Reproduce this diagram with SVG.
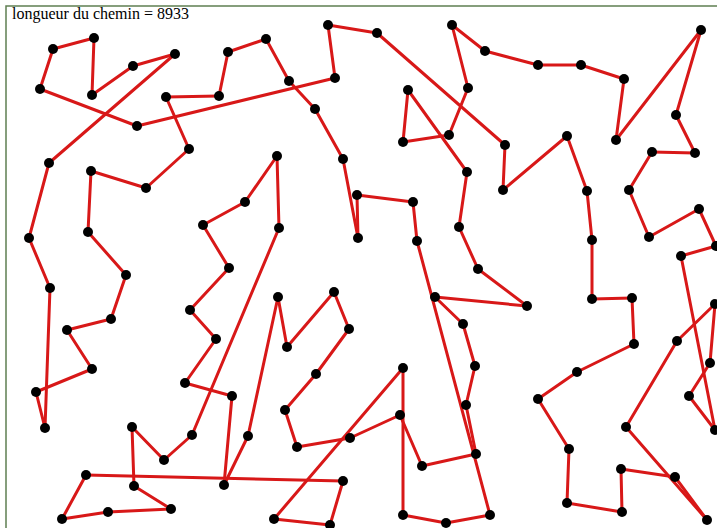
<svg xmlns="http://www.w3.org/2000/svg" width="717" height="528" viewBox="0 0 717 528">
<style>
.e{stroke:#d81818;stroke-width:3;stroke-linecap:round}
.n{fill:#000}
.t{font-family:"Liberation Serif","Times New Roman",serif;font-size:16px;fill:#000}
</style>
<rect width="717" height="528" fill="#fff"/>
<rect x="6" y="6" width="720" height="530" fill="none" stroke="#5f7f52" stroke-width="1.5"/>
<text class="t" x="12" y="19">longueur du chemin = 8933</text>
<g id="connectors">
<line class="e" x1="53" y1="49" x2="94" y2="38"/>
<line class="e" x1="94" y1="38" x2="92" y2="95"/>
<line class="e" x1="92" y1="95" x2="133" y2="66"/>
<line class="e" x1="133" y1="66" x2="175" y2="54"/>
<line class="e" x1="175" y1="54" x2="49" y2="163"/>
<line class="e" x1="49" y1="163" x2="29" y2="238"/>
<line class="e" x1="29" y1="238" x2="50" y2="288"/>
<line class="e" x1="50" y1="288" x2="45" y2="428"/>
<line class="e" x1="45" y1="428" x2="36" y2="392"/>
<line class="e" x1="36" y1="392" x2="92" y2="369"/>
<line class="e" x1="92" y1="369" x2="67" y2="330"/>
<line class="e" x1="67" y1="330" x2="111" y2="319"/>
<line class="e" x1="111" y1="319" x2="126" y2="275"/>
<line class="e" x1="126" y1="275" x2="88" y2="232"/>
<line class="e" x1="88" y1="232" x2="91" y2="171"/>
<line class="e" x1="91" y1="171" x2="146" y2="188"/>
<line class="e" x1="146" y1="188" x2="189" y2="149"/>
<line class="e" x1="189" y1="149" x2="166" y2="97"/>
<line class="e" x1="166" y1="97" x2="219" y2="96"/>
<line class="e" x1="219" y1="96" x2="228" y2="52"/>
<line class="e" x1="228" y1="52" x2="266" y2="39"/>
<line class="e" x1="266" y1="39" x2="289" y2="81"/>
<line class="e" x1="289" y1="81" x2="315" y2="109"/>
<line class="e" x1="315" y1="109" x2="343" y2="159"/>
<line class="e" x1="343" y1="159" x2="358" y2="238"/>
<line class="e" x1="358" y1="238" x2="357" y2="195"/>
<line class="e" x1="357" y1="195" x2="413" y2="202"/>
<line class="e" x1="413" y1="202" x2="417" y2="241"/>
<line class="e" x1="417" y1="241" x2="490" y2="515"/>
<line class="e" x1="490" y1="515" x2="446" y2="523"/>
<line class="e" x1="446" y1="523" x2="403" y2="515"/>
<line class="e" x1="403" y1="515" x2="403" y2="368"/>
<line class="e" x1="403" y1="368" x2="274" y2="519"/>
<line class="e" x1="274" y1="519" x2="330" y2="525"/>
<line class="e" x1="330" y1="525" x2="343" y2="481"/>
<line class="e" x1="343" y1="481" x2="86" y2="475"/>
<line class="e" x1="86" y1="475" x2="62" y2="519"/>
<line class="e" x1="62" y1="519" x2="108" y2="512"/>
<line class="e" x1="108" y1="512" x2="171" y2="509"/>
<line class="e" x1="171" y1="509" x2="134" y2="486"/>
<line class="e" x1="134" y1="486" x2="132" y2="427"/>
<line class="e" x1="132" y1="427" x2="164" y2="460"/>
<line class="e" x1="164" y1="460" x2="192" y2="435"/>
<line class="e" x1="192" y1="435" x2="279" y2="228"/>
<line class="e" x1="279" y1="228" x2="277" y2="156"/>
<line class="e" x1="277" y1="156" x2="245" y2="202"/>
<line class="e" x1="245" y1="202" x2="203" y2="225"/>
<line class="e" x1="203" y1="225" x2="229" y2="268"/>
<line class="e" x1="229" y1="268" x2="190" y2="310"/>
<line class="e" x1="190" y1="310" x2="216" y2="339"/>
<line class="e" x1="216" y1="339" x2="185" y2="383"/>
<line class="e" x1="185" y1="383" x2="232" y2="396"/>
<line class="e" x1="232" y1="396" x2="224" y2="485"/>
<line class="e" x1="224" y1="485" x2="248" y2="436"/>
<line class="e" x1="248" y1="436" x2="278" y2="297"/>
<line class="e" x1="278" y1="297" x2="287" y2="347"/>
<line class="e" x1="287" y1="347" x2="334" y2="292"/>
<line class="e" x1="334" y1="292" x2="349" y2="329"/>
<line class="e" x1="349" y1="329" x2="316" y2="374"/>
<line class="e" x1="316" y1="374" x2="285" y2="410"/>
<line class="e" x1="285" y1="410" x2="297" y2="447"/>
<line class="e" x1="297" y1="447" x2="350" y2="438"/>
<line class="e" x1="350" y1="438" x2="400" y2="415"/>
<line class="e" x1="400" y1="415" x2="422" y2="466"/>
<line class="e" x1="422" y1="466" x2="476" y2="454"/>
<line class="e" x1="476" y1="454" x2="466" y2="405"/>
<line class="e" x1="466" y1="405" x2="475" y2="366"/>
<line class="e" x1="475" y1="366" x2="463" y2="324"/>
<line class="e" x1="463" y1="324" x2="435" y2="297"/>
<line class="e" x1="435" y1="297" x2="527" y2="306"/>
<line class="e" x1="527" y1="306" x2="478" y2="269"/>
<line class="e" x1="478" y1="269" x2="459" y2="227"/>
<line class="e" x1="459" y1="227" x2="467" y2="172"/>
<line class="e" x1="467" y1="172" x2="408" y2="90"/>
<line class="e" x1="408" y1="90" x2="403" y2="142"/>
<line class="e" x1="403" y1="142" x2="449" y2="135"/>
<line class="e" x1="449" y1="135" x2="468" y2="88"/>
<line class="e" x1="468" y1="88" x2="452" y2="25"/>
<line class="e" x1="452" y1="25" x2="485" y2="51"/>
<line class="e" x1="485" y1="51" x2="538" y2="65"/>
<line class="e" x1="538" y1="65" x2="581" y2="65"/>
<line class="e" x1="581" y1="65" x2="624" y2="79"/>
<line class="e" x1="624" y1="79" x2="616" y2="140"/>
<line class="e" x1="616" y1="140" x2="701" y2="30"/>
<line class="e" x1="701" y1="30" x2="676" y2="115"/>
<line class="e" x1="676" y1="115" x2="695" y2="153"/>
<line class="e" x1="695" y1="153" x2="652" y2="152"/>
<line class="e" x1="652" y1="152" x2="629" y2="190"/>
<line class="e" x1="629" y1="190" x2="649" y2="237"/>
<line class="e" x1="649" y1="237" x2="699" y2="209"/>
<line class="e" x1="699" y1="209" x2="716" y2="246"/>
<line class="e" x1="716" y1="246" x2="681" y2="256"/>
<line class="e" x1="681" y1="256" x2="715" y2="430"/>
<line class="e" x1="715" y1="430" x2="689" y2="396"/>
<line class="e" x1="689" y1="396" x2="710" y2="363"/>
<line class="e" x1="710" y1="363" x2="715" y2="304"/>
<line class="e" x1="715" y1="304" x2="677" y2="341"/>
<line class="e" x1="677" y1="341" x2="626" y2="427"/>
<line class="e" x1="626" y1="427" x2="707" y2="520"/>
<line class="e" x1="707" y1="520" x2="675" y2="477"/>
<line class="e" x1="675" y1="477" x2="621" y2="469"/>
<line class="e" x1="621" y1="469" x2="622" y2="512"/>
<line class="e" x1="622" y1="512" x2="567" y2="503"/>
<line class="e" x1="567" y1="503" x2="569" y2="449"/>
<line class="e" x1="569" y1="449" x2="538" y2="399"/>
<line class="e" x1="538" y1="399" x2="577" y2="372"/>
<line class="e" x1="577" y1="372" x2="634" y2="344"/>
<line class="e" x1="634" y1="344" x2="632" y2="298"/>
<line class="e" x1="632" y1="298" x2="592" y2="299"/>
<line class="e" x1="592" y1="299" x2="592" y2="240"/>
<line class="e" x1="592" y1="240" x2="587" y2="191"/>
<line class="e" x1="587" y1="191" x2="567" y2="136"/>
<line class="e" x1="567" y1="136" x2="503" y2="190"/>
<line class="e" x1="503" y1="190" x2="505" y2="145"/>
<line class="e" x1="505" y1="145" x2="377" y2="33"/>
<line class="e" x1="377" y1="33" x2="328" y2="25"/>
<line class="e" x1="328" y1="25" x2="335" y2="78"/>
<line class="e" x1="335" y1="78" x2="137" y2="126"/>
<line class="e" x1="137" y1="126" x2="40" y2="89"/>
<line class="e" x1="40" y1="89" x2="53" y2="49"/>
</g>
<g id="n1"><circle class="n" cx="53" cy="49" r="5"/></g>
<g id="n2"><circle class="n" cx="94" cy="38" r="5"/></g>
<g id="n3"><circle class="n" cx="92" cy="95" r="5"/></g>
<g id="n4"><circle class="n" cx="133" cy="66" r="5"/></g>
<g id="n5"><circle class="n" cx="175" cy="54" r="5"/></g>
<g id="n6"><circle class="n" cx="49" cy="163" r="5"/></g>
<g id="n7"><circle class="n" cx="29" cy="238" r="5"/></g>
<g id="n8"><circle class="n" cx="50" cy="288" r="5"/></g>
<g id="n9"><circle class="n" cx="45" cy="428" r="5"/></g>
<g id="n10"><circle class="n" cx="36" cy="392" r="5"/></g>
<g id="n11"><circle class="n" cx="92" cy="369" r="5"/></g>
<g id="n12"><circle class="n" cx="67" cy="330" r="5"/></g>
<g id="n13"><circle class="n" cx="111" cy="319" r="5"/></g>
<g id="n14"><circle class="n" cx="126" cy="275" r="5"/></g>
<g id="n15"><circle class="n" cx="88" cy="232" r="5"/></g>
<g id="n16"><circle class="n" cx="91" cy="171" r="5"/></g>
<g id="n17"><circle class="n" cx="146" cy="188" r="5"/></g>
<g id="n18"><circle class="n" cx="189" cy="149" r="5"/></g>
<g id="n19"><circle class="n" cx="166" cy="97" r="5"/></g>
<g id="n20"><circle class="n" cx="219" cy="96" r="5"/></g>
<g id="n21"><circle class="n" cx="228" cy="52" r="5"/></g>
<g id="n22"><circle class="n" cx="266" cy="39" r="5"/></g>
<g id="n23"><circle class="n" cx="289" cy="81" r="5"/></g>
<g id="n24"><circle class="n" cx="315" cy="109" r="5"/></g>
<g id="n25"><circle class="n" cx="343" cy="159" r="5"/></g>
<g id="n26"><circle class="n" cx="358" cy="238" r="5"/></g>
<g id="n27"><circle class="n" cx="357" cy="195" r="5"/></g>
<g id="n28"><circle class="n" cx="413" cy="202" r="5"/></g>
<g id="n29"><circle class="n" cx="417" cy="241" r="5"/></g>
<g id="n30"><circle class="n" cx="490" cy="515" r="5"/></g>
<g id="n31"><circle class="n" cx="446" cy="523" r="5"/></g>
<g id="n32"><circle class="n" cx="403" cy="515" r="5"/></g>
<g id="n33"><circle class="n" cx="403" cy="368" r="5"/></g>
<g id="n34"><circle class="n" cx="274" cy="519" r="5"/></g>
<g id="n35"><circle class="n" cx="330" cy="525" r="5"/></g>
<g id="n36"><circle class="n" cx="343" cy="481" r="5"/></g>
<g id="n37"><circle class="n" cx="86" cy="475" r="5"/></g>
<g id="n38"><circle class="n" cx="62" cy="519" r="5"/></g>
<g id="n39"><circle class="n" cx="108" cy="512" r="5"/></g>
<g id="n40"><circle class="n" cx="171" cy="509" r="5"/></g>
<g id="n41"><circle class="n" cx="134" cy="486" r="5"/></g>
<g id="n42"><circle class="n" cx="132" cy="427" r="5"/></g>
<g id="n43"><circle class="n" cx="164" cy="460" r="5"/></g>
<g id="n44"><circle class="n" cx="192" cy="435" r="5"/></g>
<g id="n45"><circle class="n" cx="279" cy="228" r="5"/></g>
<g id="n46"><circle class="n" cx="277" cy="156" r="5"/></g>
<g id="n47"><circle class="n" cx="245" cy="202" r="5"/></g>
<g id="n48"><circle class="n" cx="203" cy="225" r="5"/></g>
<g id="n49"><circle class="n" cx="229" cy="268" r="5"/></g>
<g id="n50"><circle class="n" cx="190" cy="310" r="5"/></g>
<g id="n51"><circle class="n" cx="216" cy="339" r="5"/></g>
<g id="n52"><circle class="n" cx="185" cy="383" r="5"/></g>
<g id="n53"><circle class="n" cx="232" cy="396" r="5"/></g>
<g id="n54"><circle class="n" cx="224" cy="485" r="5"/></g>
<g id="n55"><circle class="n" cx="248" cy="436" r="5"/></g>
<g id="n56"><circle class="n" cx="278" cy="297" r="5"/></g>
<g id="n57"><circle class="n" cx="287" cy="347" r="5"/></g>
<g id="n58"><circle class="n" cx="334" cy="292" r="5"/></g>
<g id="n59"><circle class="n" cx="349" cy="329" r="5"/></g>
<g id="n60"><circle class="n" cx="316" cy="374" r="5"/></g>
<g id="n61"><circle class="n" cx="285" cy="410" r="5"/></g>
<g id="n62"><circle class="n" cx="297" cy="447" r="5"/></g>
<g id="n63"><circle class="n" cx="350" cy="438" r="5"/></g>
<g id="n64"><circle class="n" cx="400" cy="415" r="5"/></g>
<g id="n65"><circle class="n" cx="422" cy="466" r="5"/></g>
<g id="n66"><circle class="n" cx="476" cy="454" r="5"/></g>
<g id="n67"><circle class="n" cx="466" cy="405" r="5"/></g>
<g id="n68"><circle class="n" cx="475" cy="366" r="5"/></g>
<g id="n69"><circle class="n" cx="463" cy="324" r="5"/></g>
<g id="n70"><circle class="n" cx="435" cy="297" r="5"/></g>
<g id="n71"><circle class="n" cx="527" cy="306" r="5"/></g>
<g id="n72"><circle class="n" cx="478" cy="269" r="5"/></g>
<g id="n73"><circle class="n" cx="459" cy="227" r="5"/></g>
<g id="n74"><circle class="n" cx="467" cy="172" r="5"/></g>
<g id="n75"><circle class="n" cx="408" cy="90" r="5"/></g>
<g id="n76"><circle class="n" cx="403" cy="142" r="5"/></g>
<g id="n77"><circle class="n" cx="449" cy="135" r="5"/></g>
<g id="n78"><circle class="n" cx="468" cy="88" r="5"/></g>
<g id="n79"><circle class="n" cx="452" cy="25" r="5"/></g>
<g id="n80"><circle class="n" cx="485" cy="51" r="5"/></g>
<g id="n81"><circle class="n" cx="538" cy="65" r="5"/></g>
<g id="n82"><circle class="n" cx="581" cy="65" r="5"/></g>
<g id="n83"><circle class="n" cx="624" cy="79" r="5"/></g>
<g id="n84"><circle class="n" cx="616" cy="140" r="5"/></g>
<g id="n85"><circle class="n" cx="701" cy="30" r="5"/></g>
<g id="n86"><circle class="n" cx="676" cy="115" r="5"/></g>
<g id="n87"><circle class="n" cx="695" cy="153" r="5"/></g>
<g id="n88"><circle class="n" cx="652" cy="152" r="5"/></g>
<g id="n89"><circle class="n" cx="629" cy="190" r="5"/></g>
<g id="n90"><circle class="n" cx="649" cy="237" r="5"/></g>
<g id="n91"><circle class="n" cx="699" cy="209" r="5"/></g>
<g id="n92"><circle class="n" cx="716" cy="246" r="5"/></g>
<g id="n93"><circle class="n" cx="681" cy="256" r="5"/></g>
<g id="n94"><circle class="n" cx="715" cy="430" r="5"/></g>
<g id="n95"><circle class="n" cx="689" cy="396" r="5"/></g>
<g id="n96"><circle class="n" cx="710" cy="363" r="5"/></g>
<g id="n97"><circle class="n" cx="715" cy="304" r="5"/></g>
<g id="n98"><circle class="n" cx="677" cy="341" r="5"/></g>
<g id="n99"><circle class="n" cx="626" cy="427" r="5"/></g>
<g id="n100"><circle class="n" cx="707" cy="520" r="5"/></g>
<g id="n101"><circle class="n" cx="675" cy="477" r="5"/></g>
<g id="n102"><circle class="n" cx="621" cy="469" r="5"/></g>
<g id="n103"><circle class="n" cx="622" cy="512" r="5"/></g>
<g id="n104"><circle class="n" cx="567" cy="503" r="5"/></g>
<g id="n105"><circle class="n" cx="569" cy="449" r="5"/></g>
<g id="n106"><circle class="n" cx="538" cy="399" r="5"/></g>
<g id="n107"><circle class="n" cx="577" cy="372" r="5"/></g>
<g id="n108"><circle class="n" cx="634" cy="344" r="5"/></g>
<g id="n109"><circle class="n" cx="632" cy="298" r="5"/></g>
<g id="n110"><circle class="n" cx="592" cy="299" r="5"/></g>
<g id="n111"><circle class="n" cx="592" cy="240" r="5"/></g>
<g id="n112"><circle class="n" cx="587" cy="191" r="5"/></g>
<g id="n113"><circle class="n" cx="567" cy="136" r="5"/></g>
<g id="n114"><circle class="n" cx="503" cy="190" r="5"/></g>
<g id="n115"><circle class="n" cx="505" cy="145" r="5"/></g>
<g id="n116"><circle class="n" cx="377" cy="33" r="5"/></g>
<g id="n117"><circle class="n" cx="328" cy="25" r="5"/></g>
<g id="n118"><circle class="n" cx="335" cy="78" r="5"/></g>
<g id="n119"><circle class="n" cx="137" cy="126" r="5"/></g>
<g id="n120"><circle class="n" cx="40" cy="89" r="5"/></g>
</svg>
